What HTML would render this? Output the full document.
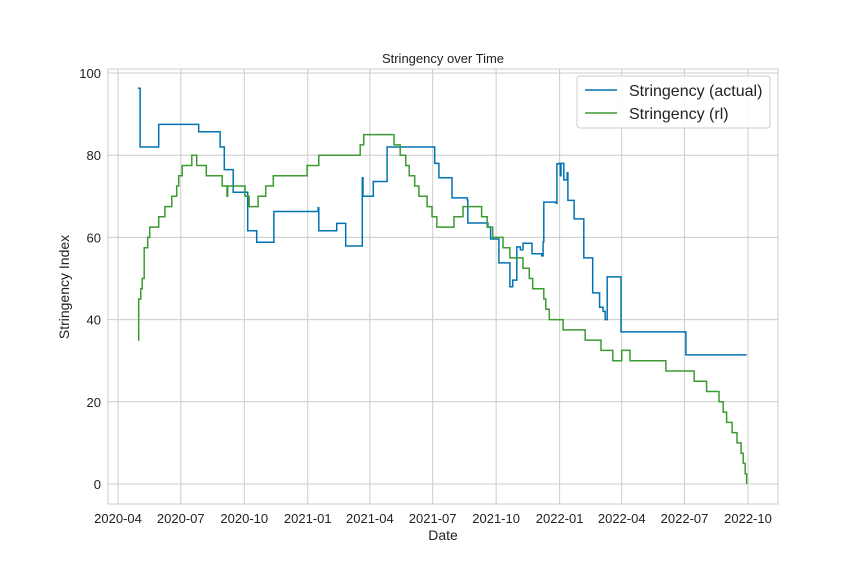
<!DOCTYPE html>
<html><head><meta charset="utf-8"><style>
body{margin:0;background:#fff}
svg{display:block;font-family:"Liberation Sans",Arial,sans-serif}
</style></head><body>
<svg id="chart" width="864" height="576">
<rect x="0" y="0" width="864" height="576" fill="#fff"/>
<g id="grid"></g>
<g id="series"></g>
<rect x="108" y="69" width="670" height="435" fill="none" stroke="#cccccc" stroke-width="1"/>
<g id="ticks"></g>
<text x="443" y="63" text-anchor="middle" font-size="13" fill="#222">Stringency over Time</text>
<text x="443" y="540" text-anchor="middle" font-size="14" fill="#222">Date</text>
<text x="0" y="0" transform="translate(69,287) rotate(-90)" text-anchor="middle" font-size="14" fill="#222">Stringency Index</text>
<g>
<rect x="577" y="76" width="193" height="52" rx="3" fill="#fff" fill-opacity="0.85" stroke="#cccccc"/>
<line x1="585" y1="90" x2="617" y2="90" stroke="#0173b2" stroke-width="1.6"/>
<text x="629" y="96" font-size="16" fill="#222">Stringency (actual)</text>
<line x1="585" y1="113" x2="617" y2="113" stroke="#3c9a32" stroke-width="1.6"/>
<text x="629" y="119" font-size="16" fill="#222">Stringency (rl)</text>
</g>
</svg>
<script>
// days since 2020-04-01
const actualDays = [29,32,59,117,148,154,167,188,201,226,290,291,317,330,354,355,370,390,459,465,484,506,507,536,540,552,568,572,578,583,587,600,614,616,617,635,636,639,641,642,645,646,649,651,652,661,675,688,698,703,706,709,729,823,911];
const actualValues = [96.3,82,87.5,85.7,82,76.5,71,61.6,58.8,66.3,67.2,61.6,63.4,57.9,74.5,70,73.6,82,78,74.5,69.6,69.1,63.5,62.5,59.6,53.8,48,49.6,57.7,57,58.6,56,55.5,58.9,68.6,68.3,77.9,78,75,78,78,74,74,75.7,69,64.5,55,46.5,43,42,40,50.4,37,31.4,31.4];
const rlDays = [29,30,33,35,38,43,46,59,68,78,85,88,93,107,114,128,151,158,159,184,190,203,214,225,274,291,351,356,400,409,417,422,430,436,448,455,462,487,500,527,535,543,558,568,587,596,601,617,620,625,645,677,700,717,730,742,794,835,853,871,877,882,890,897,903,906,909,911];
const rlValues = [35,45,47.5,50,57.5,60,62.5,65,67.5,70,72.5,75,77.5,80,77.5,75,72.5,70,72.5,70,67.5,70,72.5,75,77.5,80,82.5,85,82.5,80,77.5,75,72.5,70,67.5,65,62.5,65,67.5,65,62.5,60,57.5,55,52.5,50,47.5,45,42.5,40,37.5,35,32.5,30,32.5,30,27.5,25,22.5,20,17.5,15,12.5,10,7.5,5,2.5,0];
const xTickDays = [0,91,183,275,365,456,548,640,730,821,913];
const xTickLabels = ["2020-04","2020-07","2020-10","2021-01","2021-04","2021-07","2021-10","2022-01","2022-04","2022-07","2022-10"];
const yTickValues = [0,20,40,60,80,100];

const NS="http://www.w3.org/2000/svg";
function xs(d){return 118+d*(630/913);}
function ys(v){return 484-v*4.11;}
const grid=document.getElementById('grid'),ticks=document.getElementById('ticks'),series=document.getElementById('series');
function mk(tag,attrs,parent){const e=document.createElementNS(NS,tag);for(const k in attrs)e.setAttribute(k,attrs[k]);parent.appendChild(e);return e;}
xTickDays.forEach((d,i)=>{
  const l=mk('line',{x1:xs(d),x2:xs(d),y1:69,y2:504,stroke:'#cccccc','stroke-width':1},grid);
  
  
  const t=mk('text',{x:xs(d),y:523,'text-anchor':'middle','font-size':13,fill:'#222'},ticks);
  t.textContent=xTickLabels[i];
  
  
});
yTickValues.forEach(v=>{
  const l=mk('line',{x1:108,x2:778,y1:ys(v),y2:ys(v),stroke:'#cccccc','stroke-width':1},grid);
  
  
  const t=mk('text',{x:101,y:ys(v)+5,'text-anchor':'end','font-size':13,fill:'#222'},ticks);
  t.textContent=v;
  
  
});
function stepPath(days,vals){
  let p='M'+xs(days[0]).toFixed(1)+','+ys(vals[0]).toFixed(1);
  for(let i=1;i<days.length;i++){
    p+=' H'+xs(days[i]).toFixed(1)+' V'+ys(vals[i]).toFixed(1);
  }
  return p;
}
const pa=mk('path',{d:stepPath(actualDays,actualValues),fill:'none',stroke:'#0173b2','stroke-width':1.5},series);


const pr=mk('path',{d:stepPath(rlDays,rlValues),fill:'none',stroke:'#3c9a32','stroke-width':1.5},series);


</script>
</body></html>
